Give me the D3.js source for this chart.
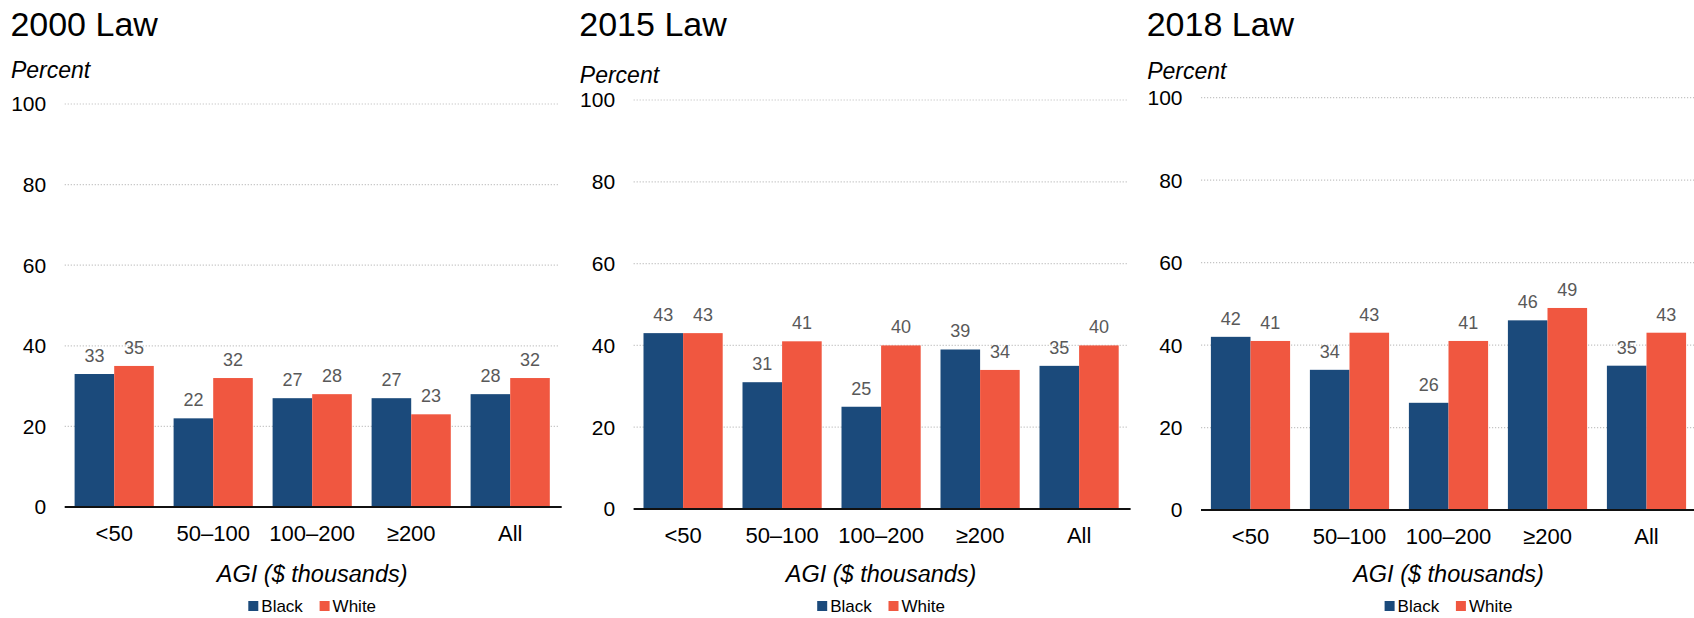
<!DOCTYPE html>
<html>
<head>
<meta charset="utf-8">
<script src="https://cdn.jsdelivr.net/npm/d3@7"></script>
<style>
  body { margin: 0; background: #fff; }
  svg { display: block; }
  text { font-family: "Liberation Sans", Arial, Helvetica, sans-serif; }
</style>
</head>
<body>
<svg id="chart" width="1694" height="618"></svg>
<script>
// ---------- data ----------
const categories = ["<50", "50–100", "100–200", "≥200", "All"];
const seriesNames = ["Black", "White"];
const panelTitles = ["2000 Law", "2015 Law", "2018 Law"];
const yTicks = [0, 20, 40, 60, 80, 100];

const black2000 = [33, 22, 27, 27, 28];
const white2000 = [35, 32, 28, 23, 32];
const black2015 = [43, 31, 25, 39, 35];
const white2015 = [43, 41, 40, 34, 40];
const black2018 = [42, 34, 26, 46, 35];
const white2018 = [41, 43, 41, 49, 43];

const blackSeries = [black2000, black2015, black2018];
const whiteSeries = [white2000, white2015, white2018];

// ---------- style / layout ----------
const colors = { Black: "#1b4a7b", White: "#f05740" };
const layout = [
  { left: 64.7, axisY: 507, topY: 104, percentY: 78 },
  { left: 633.6, axisY: 509, topY: 100, percentY: 82.7 },
  { left: 1201, axisY: 510, topY: 97.7, percentY: 79.3 }
];
const plotW = 495;

const svg = d3.select("#chart");
svg.append("rect").attr("width", 1694).attr("height", 618).attr("fill", "#fff");

panelTitles.forEach((title, i) => {
  const L = layout[i];
  const g = svg.append("g");

  const x = d3.scaleBand()
    .domain(categories)
    .range([L.left, L.left + plotW])
    .paddingInner(0.2)
    .paddingOuter(0.1);
  const xs = d3.scaleBand().domain(seriesNames).range([0, x.bandwidth()]);
  const y = d3.scaleLinear().domain([0, 100]).range([L.axisY, L.topY]);

  // title
  g.append("text")
    .attr("x", L.left - 54.3).attr("y", 36)
    .attr("font-size", 34).attr("fill", "#000")
    .text(title);

  // "Percent"
  g.append("text")
    .attr("x", L.left - 53.8).attr("y", L.percentY)
    .attr("font-size", 23).attr("font-style", "italic").attr("fill", "#000")
    .text("Percent");

  // gridlines
  g.append("g").selectAll("line")
    .data(yTicks.filter(t => t > 0))
    .join("line")
    .attr("x1", L.left).attr("x2", L.left + plotW)
    .attr("y1", d => y(d)).attr("y2", d => y(d))
    .attr("stroke", "#c4c4c4").attr("stroke-width", 1.2)
    .attr("stroke-dasharray", "1.2,1.8");

  // y axis labels
  const yAxis = d3.axisLeft(y).tickValues(yTicks).tickSize(0).tickPadding(18.5);
  const ya = g.append("g").attr("transform", `translate(${L.left},0)`).call(yAxis);
  ya.select(".domain").remove();
  ya.selectAll("text")
    .attr("font-size", 21).attr("fill", "#000")
    .attr("font-family", "\"Liberation Sans\", Arial, sans-serif")
    .attr("dy", "0.33em");

  // bars
  const rows = categories.map((c, k) => ({
    cat: c,
    vals: [
      { s: "Black", v: blackSeries[i][k] },
      { s: "White", v: whiteSeries[i][k] }
    ]
  }));
  const grp = g.append("g").selectAll("g")
    .data(rows).join("g")
    .attr("transform", d => `translate(${x(d.cat)},0)`);
  grp.selectAll("rect")
    .data(d => d.vals).join("rect")
    .attr("x", d => xs(d.s))
    .attr("width", xs.bandwidth())
    .attr("y", d => y(d.v))
    .attr("height", d => y(0) - y(d.v))
    .attr("fill", d => colors[d.s]);
  grp.selectAll("text.val")
    .data(d => d.vals).join("text")
    .attr("class", "val")
    .attr("x", d => xs(d.s) + xs.bandwidth() / 2)
    .attr("y", d => y(d.v) - 12)
    .attr("text-anchor", "middle")
    .attr("font-size", 18).attr("fill", "#595959")
    .text(d => d.v);

  // x axis line
  g.append("line")
    .attr("x1", L.left).attr("x2", L.left + plotW + 2)
    .attr("y1", y(0)).attr("y2", y(0))
    .attr("stroke", "#111").attr("stroke-width", 2);

  // x axis labels
  const xAxis = d3.axisBottom(x).tickSize(0).tickPadding(0);
  const xa = g.append("g").attr("transform", `translate(0,${y(0)})`).call(xAxis);
  xa.select(".domain").remove();
  xa.selectAll("text")
    .attr("font-size", 22).attr("fill", "#000")
    .attr("font-family", "\"Liberation Sans\", Arial, sans-serif")
    .attr("dy", null)
    .attr("y", 34);

  const cx = L.left + plotW / 2;
  // x axis title
  g.append("text")
    .attr("x", cx).attr("y", 581.7)
    .attr("text-anchor", "middle")
    .attr("font-size", 23.5).attr("font-style", "italic").attr("fill", "#000")
    .text("AGI ($ thousands)");

  // legend
  const leg = g.append("g");
  const fs = 17;
  let items = [];
  let cursor = 0;
  seriesNames.forEach((s, k) => {
    const tw = s === "Black" ? 41.6 : 43.5;
    items.push({ s, x: cursor });
    cursor += 10 + 3 + tw + (k === 0 ? 16.7 : 0);
  });
  const legStart = cx - cursor / 2;
  const li = leg.selectAll("g").data(items).join("g")
    .attr("transform", d => `translate(${legStart + d.x},0)`);
  li.append("rect")
    .attr("x", 0).attr("y", 601).attr("width", 10).attr("height", 10)
    .attr("fill", d => colors[d.s]);
  li.append("text")
    .attr("x", 13).attr("y", 611.7)
    .attr("font-size", fs).attr("fill", "#000")
    .text(d => d.s);
});
</script>
</body>
</html>
